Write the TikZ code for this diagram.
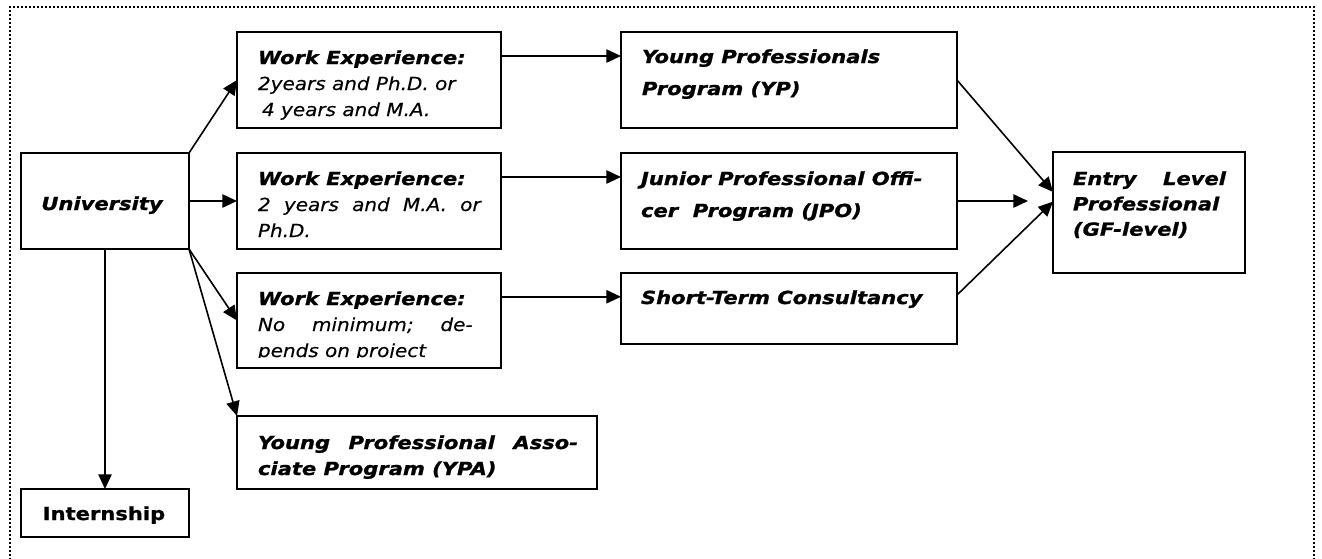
\documentclass[tikz,border=0pt]{standalone}
\usepackage{fontspec}
\setmainfont{DejaVu Sans}
\newfontfamily\fbi{DejaVu Sans Bold Oblique}[FakeStretch=1.17,FakeBold=1.2]
\newfontfamily\fri{DejaVu Sans Oblique}[FakeStretch=1.11,FakeBold=0.3]
\newfontfamily\fbu{DejaVu Sans Bold}[FakeStretch=1.17,FakeBold=1.2]
\usetikzlibrary{arrows.meta,fit,calc}
\newcommand{\fsA}{\fontsize{13.5}{19.5}\selectfont}
\newcommand{\fsB}{\fontsize{13.5}{24}\selectfont}
\newcommand{\fsC}{\fontsize{13.5}{19}\selectfont}
\begin{document}
\begin{tikzpicture}[x=0.75pt,y=-0.75pt,
  box/.style={draw, line width=1.5pt, inner sep=0pt, outer sep=0pt},
  txt/.style={anchor=base west, inner sep=0pt, outer sep=0pt},
  ctxt/.style={anchor=base, inner sep=0pt, outer sep=0pt},
  conn/.style={line width=1.2pt, -{Triangle[length=11pt,width=10pt]}},
  frame/.style={line width=1.4pt, dash pattern=on 1.4pt off 1.6pt}]
\useasboundingbox (0,0) rectangle (1322,558);
\draw[frame] (10,560) -- (10,7) -- (1314,7) -- (1314,560);

% boxes
\node[box, fit={(237,32)(501,128)}] (we1) {};
\node[box, fit={(621,32)(957,128)}] (yp) {};
\node[box, fit={(21,153)(189,249)}] (uni) {};
\node[box, fit={(237,153)(501,249)}] (we2) {};
\node[box, fit={(621,153)(957,249)}] (jpo) {};
\node[box, fit={(1053,152)(1245,273)}] (entry) {};
\node[box, fit={(237,273)(501,368)}] (we3) {};
\node[box, fit={(621,273)(957,344)}] (stc) {};
\node[box, fit={(237,416)(597,489)}] (ypa) {};
\node[box, fit={(21,489)(189,537)}] (intern) {};

% texts
\begin{scope}
\clip (237,32) rectangle (501,119);
\node[txt] (we1t) at (258,64) {\parbox[t]{300pt}{\fsA{\fbi Work Experience:}\\{\fri 2years and Ph.D. or}\\{\fri\hspace*{3pt}4 years and M.A.}}};
\end{scope}
\node[txt] (we2t) at (258,185) {\parbox[t]{300pt}{\fsA{\fbi Work Experience:}\\{\fri\hbox to 167pt{2\hfill years\hfill and\hfill M.A.\hfill or}}\\{\fri Ph.D.}}};
\begin{scope}
\clip (237,273) rectangle (501,357);
\node[txt] (we3t) at (258,305) {\parbox[t]{300pt}{\fsA{\fbi Work Experience:}\\{\fri\hbox to 161pt{No\hfill minimum;\hfill de-}}\\{\fri pends on project}}};
\end{scope}
\node[txt] (ypt) at (642,63) {\parbox[t]{300pt}{\fsB\fbi Young Professionals\\Program (YP)}};
\node[txt] (jpot) at (641,185) {\parbox[t]{300pt}{\fsB\fbi Junior Professional Offi-\\cer\ \ Program (JPO)}};
\node[txt] (stct) at (641,304) {\fsA\fbi Short-Term Consultancy};
\node[txt] (entryt) at (1073,185) {\parbox[t]{200pt}{\fsC\fbi\leavevmode\hbox to 114.75pt{Entry\hfill Level}\\Professional\\(GF-level)}};
\node[txt] (ypat) at (258,449) {\parbox[t]{300pt}{\fsA\fbi\leavevmode\hbox to 240pt{Young\hfill Professional\hfill Asso-}\\ciate Program (YPA)}};
\node[ctxt] (unit) at (102,210) {\fsA\fbi University};
\node[ctxt] (internt) at (104,520) {\fsA\fbu Internship};

% connectors
\draw[conn] (uni.north east) -- (we1.west);
\draw[conn] (uni.east) -- (we2.west);
\draw[conn] (uni.south east) -- (we3.west);
\draw[conn] (uni.south east) -- (ypa.north west);
\draw[conn] (uni.south) -- (intern.north);

\coordinate (a1) at ($(we1.north east)!0.25!(we1.south east)$);
\coordinate (a2) at ($(we2.north east)!0.25!(we2.south east)$);
\coordinate (a3) at ($(we3.north east)!0.25!(we3.south east)$);
\draw[conn] (a1) -- (a1 -| yp.west);
\draw[conn] (a2) -- (a2 -| jpo.west);
\draw[conn] (a3) -- (a3 -| stc.west);

\coordinate (e1) at ($(entry.north west)!0.33!(entry.south west)$);
\coordinate (e3) at ($(entry.north west)!0.41!(entry.south west)$);
\coordinate (s3) at ($(stc.north east)!0.31!(stc.south east)$);
\coordinate (jend) at (1028,201);
\draw[conn] (yp.east) -- (e1);
\draw[conn] (jpo.east) -- (jend);
\draw[conn] (s3) -- (e3);
\end{tikzpicture}
\end{document}
